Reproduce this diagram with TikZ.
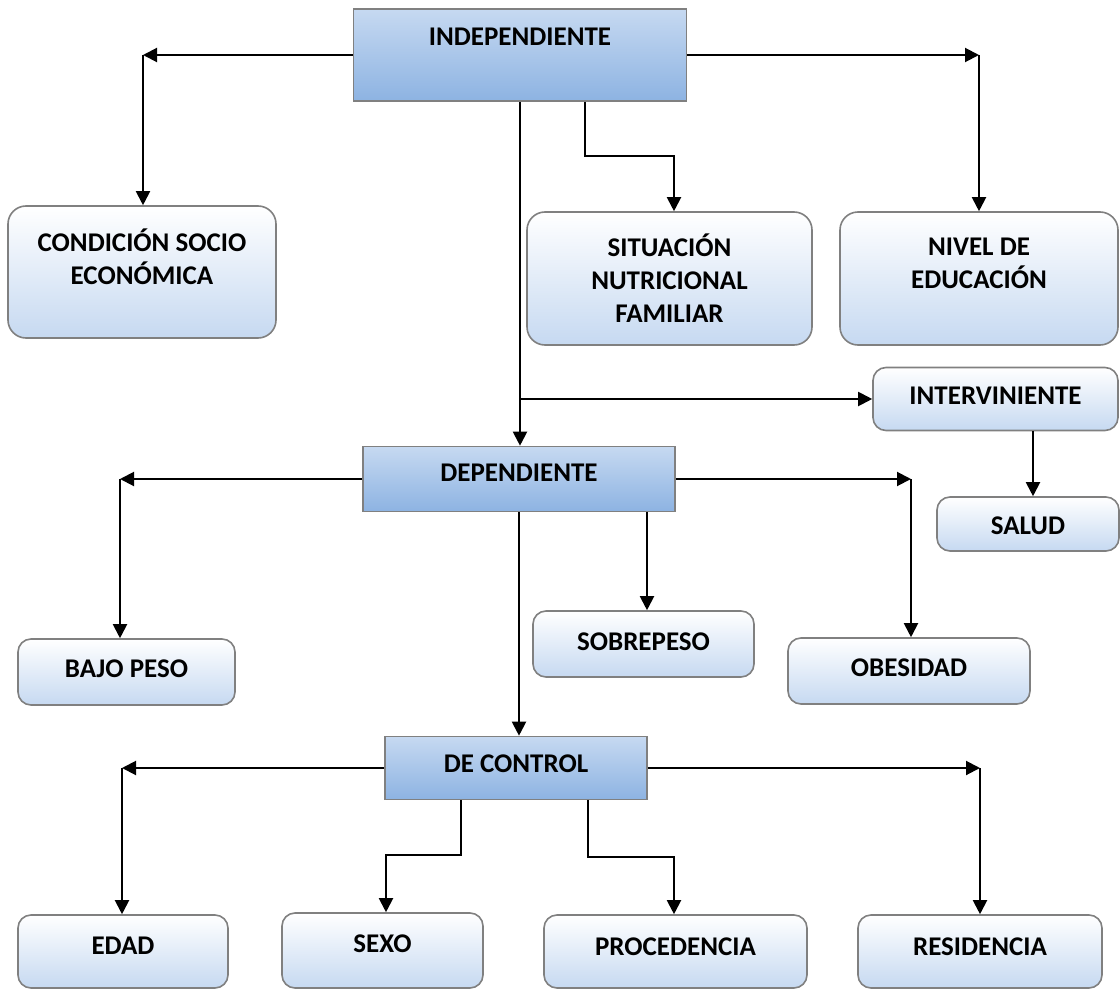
\documentclass[tikz,border=0pt]{standalone}
\usepackage{fontspec}
\setmainfont{Carlito}
\usetikzlibrary{arrows.meta}
\definecolor{hTop}{HTML}{C6D9F1}
\definecolor{hBot}{HTML}{8DB3E2}
\definecolor{rBot}{HTML}{C6D9F1}
\definecolor{edge}{HTML}{808080}

\begin{document}
\begin{tikzpicture}[x=1pt, y=-1pt,
      font=\fontsize{27}{33}\selectfont\bfseries,
      hbox/.style={draw=edge, line width=1.6pt, rectangle, top color=hTop, bottom color=hBot,
        inner ysep=0pt, minimum height=0pt, align=center},
      rbox/.style={draw=edge, line width=1.6pt, rectangle, rounded corners=13pt,
        top color=white, bottom color=rBot, inner ysep=0pt, minimum height=0pt, align=center},
      arr/.style={line width=2pt, -{Triangle[length=14pt,width=14pt]}}]
      \useasboundingbox (0,0) rectangle (1120,990);

      % variables
      \node (indep) [hbox, minimum width=333pt, text height=36.5pt, text depth=55.5pt] at (520,55) {INDEPENDIENTE};
      \node (cond) [rbox, rounded corners=18pt, minimum width=268pt, text height=78.5pt, text depth=53.5pt] at (142,272) {CONDICIÓN SOCIO\\ECONÓMICA};
      \node (situ) [rbox, rounded corners=18pt, minimum width=285pt, text height=110.5pt, text depth=22.5pt] at (669.5,278.5) {SITUACIÓN\\NUTRICIONAL\\FAMILIAR};
      \node (nivel) [rbox, rounded corners=18pt, minimum width=278pt, text height=76.5pt, text depth=56.5pt] at (979,278.5) {NIVEL DE\\EDUCACIÓN};
      \node (interv) [rbox, minimum width=245pt, text height=37pt, text depth=26pt] at (995.5,399) {INTERVINIENTE};
      \node (salud) [rbox, minimum width=182pt, text height=37.5pt, text depth=16.5pt] at (1028,524) {SALUD};
      \node (dep) [hbox, minimum width=312pt, text height=35pt, text depth=30pt] at (519,479) {DEPENDIENTE};
      \node (bajo) [rbox, minimum width=217pt, text height=38.5pt, text depth=27.5pt] at (126.5,672) {BAJO PESO};
      \node (sobre) [rbox, minimum width=221pt, text height=39.5pt, text depth=26.5pt] at (643.5,644) {SOBREPESO};
      \node (obes) [rbox, minimum width=242pt, text height=38.5pt, text depth=27.5pt] at (909,671) {OBESIDAD};
      \node (ctrl) [hbox, minimum width=262pt, text height=36pt, text depth=27pt] at (516,768) {DE CONTROL};
      \node (edad) [rbox, minimum width=210pt, text height=39.5pt, text depth=33.5pt] at (123,951.5) {EDAD};
      \node (sexo) [rbox, minimum width=201pt, text height=39.5pt, text depth=35.5pt] at (382.5,950.5) {SEXO};
      \node (proc) [rbox, minimum width=263pt, text height=40.5pt, text depth=32.5pt] at (675.5,951.5) {PROCEDENCIA};
      \node (resid) [rbox, minimum width=244pt, text height=40.5pt, text depth=32.5pt] at (980,951.5) {RESIDENCIA};

      % corners
      \coordinate (cA) at (143,55);
      \coordinate (cB) at (979,55);
      \coordinate (cD) at (120,479);
      \coordinate (cE) at (911,479);
      \coordinate (cF) at (122,768);
      \coordinate (cG) at (980,768);

      \draw[arr] (indep.west) -- (cA);
      \draw[arr] (cA) -- (cA |- cond.north);
      \draw[arr] (indep.east) -- (cB);
      \draw[arr] (cB) -- (nivel.north);
      \draw[arr] ([xshift=65]indep.south) |- ([xshift=4.5,yshift=55]situ.north) -- ([xshift=4.5]situ.north);
      \draw[arr] (indep.south) -- (indep.south |- dep.north);
      \draw[arr] (indep.south |- interv.west) -- (interv.west);
      \draw[arr] ([xshift=5]salud.north |- interv.south) -- ([xshift=5]salud.north);

      \draw[arr] (dep.west) -- (cD);
      \draw[arr] (cD) -- (cD |- bajo.north);
      \draw[arr] (dep.east) -- (cE);
      \draw[arr] (cE) -- (cE |- obes.north);
      \draw[arr] ([xshift=3.5]sobre.north |- dep.south) -- ([xshift=3.5]sobre.north);
      \draw[arr] (dep.south) -- (dep.south |- ctrl.north);

      \draw[arr] (ctrl.west) -- (cF);
      \draw[arr] (cF) -- (cF |- edad.north);
      \draw[arr] (ctrl.east) -- (cG);
      \draw[arr] (cG) -- (resid.north);
      \draw[arr] ([xshift=-55]ctrl.south) |- ([xshift=3.5,yshift=57]sexo.north) -- ([xshift=3.5]sexo.north);
      \draw[arr] ([xshift=72]ctrl.south) |- ([xshift=-1.5,yshift=57]proc.north) -- ([xshift=-1.5]proc.north);
    \end{tikzpicture}
\end{document}
